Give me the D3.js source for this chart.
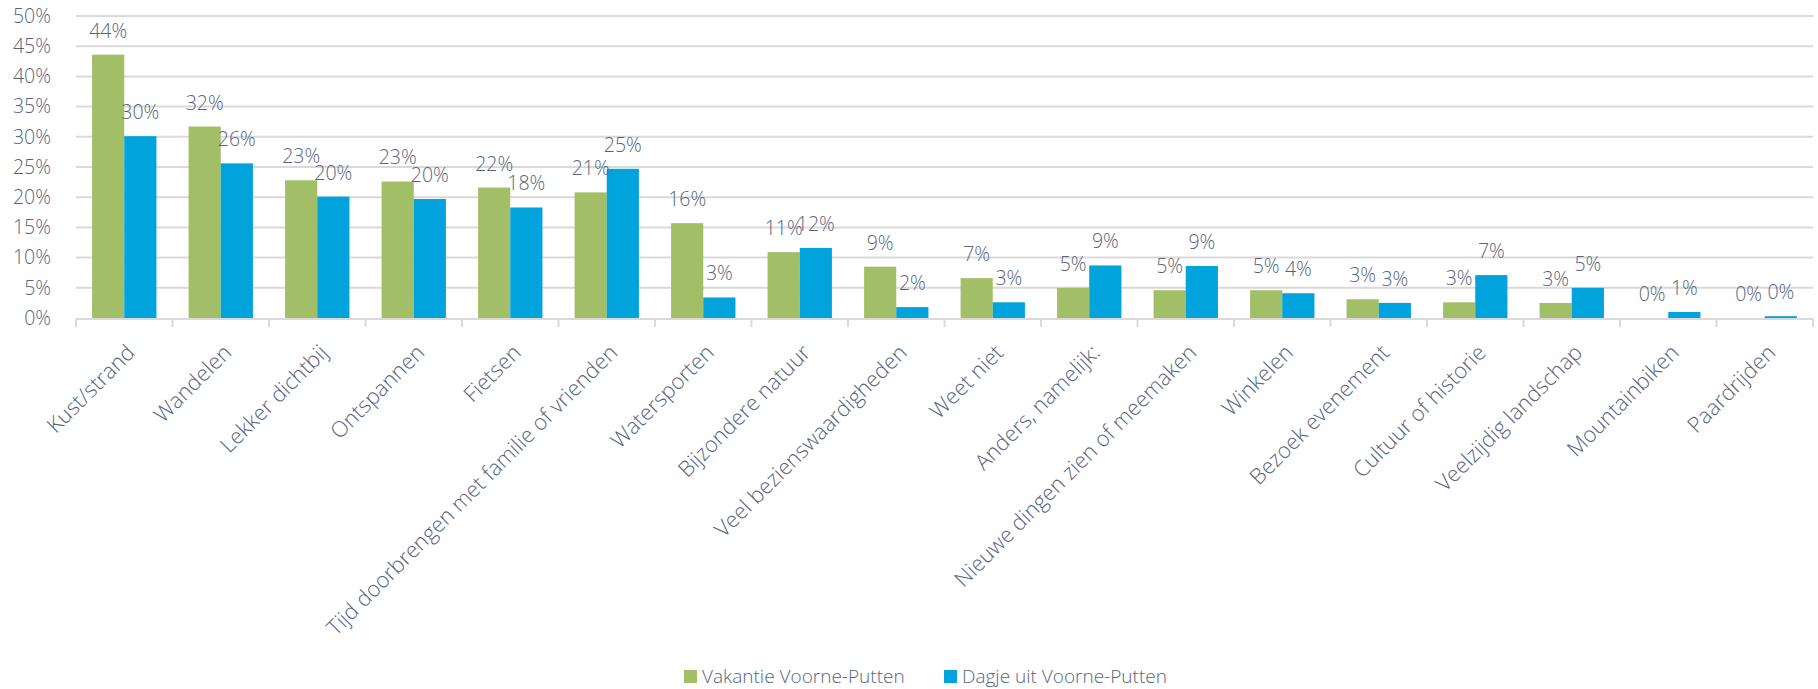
<!DOCTYPE html>
<html>
<head>
<meta charset="utf-8">
<script src="https://cdn.jsdelivr.net/npm/d3@7"></script>
<style>
  body { margin: 0; background: #fff; }
  text { font-family: "Open Sans", Lato, sans-serif; font-weight: 300; fill: #56657d; }
</style>
</head>
<body>
<div id="chart"></div>
<script>
// categories and values (fractions)
const categories = ["Kust/strand", "Wandelen", "Lekker dichtbij", "Ontspannen", "Fietsen",
  "Tijd doorbrengen met familie of vrienden", "Watersporten", "Bijzondere natuur",
  "Veel bezienswaardigheden", "Weet niet", "Anders, namelijk:", "Nieuwe dingen zien of meemaken",
  "Winkelen", "Bezoek evenement", "Cultuur of historie", "Veelzijdig landschap",
  "Mountainbiken", "Paardrijden"];
const vakantie = [0.436, 0.317, 0.228, 0.226, 0.216, 0.208, 0.157, 0.109, 0.085, 0.066, 0.050, 0.046, 0.046, 0.031, 0.026, 0.025, 0.0, 0.0];
const dagje    = [0.301, 0.256, 0.201, 0.197, 0.183, 0.247, 0.034, 0.116, 0.018, 0.026, 0.087, 0.086, 0.041, 0.025, 0.071, 0.050, 0.010, 0.003];
const seriesNames = ["Vakantie Voorne-Putten", "Dagje uit Voorne-Putten"];
const colors = ["#a2bf67", "#00a3dc"];
const yTicks = [0, 0.05, 0.1, 0.15, 0.2, 0.25, 0.3, 0.35, 0.4, 0.45, 0.5];

const width = 1818, height = 689;
const margin = { top: 16, right: 5, bottom: 371, left: 76 };
const fontSize = 19.5;

let svg = d3.select("#chart").append("svg")
    .attr("width", width)
    .attr("height", height);

// category labels are a bit larger: fit the longest one to the width seen in the original
let probe = svg.append("text").style("font-size", "20px").text(categories[5]);
let probeLen = probe.node().getComputedTextLength();
probe.remove();
const catFont = Math.min(24, Math.max(18, 20 * 400 / probeLen));

let x0 = d3.scaleBand()
    .domain(categories)
    .range([margin.left, width - margin.right]);

let x1 = d3.scaleBand()
    .domain(seriesNames)
    .range([0, x0.bandwidth()])
    .paddingOuter(0.5);

let y = d3.scaleLinear()
    .domain([0, 0.5])
    .range([height - margin.bottom, margin.top]);

const fmt = v => Math.round(v * 100) + "%";

// gridlines
svg.append("g")
    .selectAll("line")
    .data(yTicks.slice(1))
    .enter()
    .append("line")
    .attr("x1", margin.left)
    .attr("x2", width - margin.right)
    .attr("y1", d => y(d))
    .attr("y2", d => y(d))
    .attr("stroke", "#d9d9d9")
    .attr("stroke-width", 2);

// y axis labels
let yAxis = svg.append("g")
    .attr("transform", "translate(" + (margin.left - 22) + ",0)")
    .call(d3.axisLeft(y).tickValues(yTicks).tickFormat(d3.format(".0%")).tickSize(0));
yAxis.select(".domain").remove();
yAxis.selectAll("text")
    .style("font-size", fontSize + "px")
    .attr("fill", "#56657d");

// bars
let data = categories.map((c, i) => ({ cat: c, values: [vakantie[i], dagje[i]] }));

let groups = svg.append("g")
    .selectAll("g")
    .data(data)
    .enter()
    .append("g")
    .attr("transform", d => "translate(" + x0(d.cat) + ",0)");

groups.selectAll("rect")
    .data(d => d.values.map((v, j) => ({ name: seriesNames[j], value: v, j: j })))
    .enter()
    .append("rect")
    .attr("x", d => x1(d.name))
    .attr("y", d => y(d.value))
    .attr("width", x1.bandwidth())
    .attr("height", d => y(0) - y(d.value))
    .attr("fill", d => colors[d.j]);

groups.selectAll("text.lbl")
    .data(d => d.values.map((v, j) => ({ name: seriesNames[j], value: v })))
    .enter()
    .append("text")
    .attr("class", "lbl")
    .attr("x", d => x1(d.name) + x1.bandwidth() / 2)
    .attr("y", d => y(d.value) - 17)
    .attr("text-anchor", "middle")
    .style("font-size", fontSize + "px")
    .text(d => fmt(d.value));

// x axis line and ticks at category boundaries
let axisY = y(0) + 1;
svg.append("line")
    .attr("x1", margin.left)
    .attr("x2", width - margin.right)
    .attr("y1", axisY)
    .attr("y2", axisY)
    .attr("stroke", "#d9d9d9")
    .attr("stroke-width", 2);

let bounds = categories.map(c => x0(c)).concat([x0.range()[1]]);
svg.append("g")
    .selectAll("line")
    .data(bounds)
    .enter()
    .append("line")
    .attr("x1", d => d)
    .attr("x2", d => d)
    .attr("y1", axisY)
    .attr("y2", axisY + 8)
    .attr("stroke", "#d9d9d9")
    .attr("stroke-width", 2);

// rotated category labels
svg.append("g")
    .selectAll("text")
    .data(categories)
    .enter()
    .append("text")
    .attr("transform", d => "translate(" + (x0(d) + x0.bandwidth() / 2 + 12) + "," + (axisY + 35) + ") rotate(-45)")
    .attr("text-anchor", "end")
    .style("font-size", catFont + "px")
    .text(d => d);

// legend
let legend = svg.append("g")
    .selectAll("g")
    .data(seriesNames)
    .enter()
    .append("g")
    .attr("transform", (d, i) => "translate(" + (684 + i * 260) + ",670)");

legend.append("rect")
    .attr("width", 13)
    .attr("height", 13)
    .attr("fill", (d, i) => colors[i]);

legend.append("text")
    .attr("x", 18)
    .attr("y", 13)
    .style("font-size", "19px")
    .text(d => d);
</script>
</body>
</html>
